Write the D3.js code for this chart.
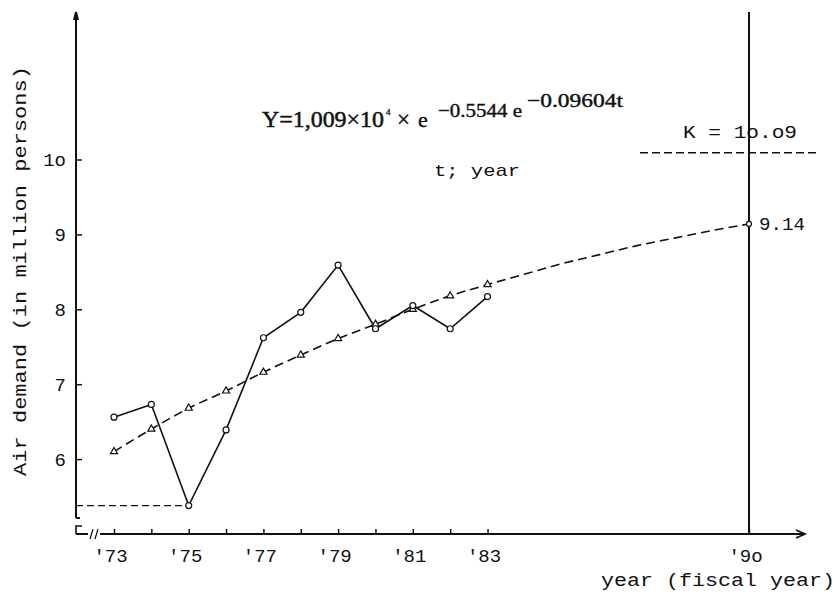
<!DOCTYPE html>
<html>
<head>
<meta charset="utf-8">
<script src="https://cdn.jsdelivr.net/npm/d3@7"></script>
<style>
  body { margin: 0; background: #fff; }
  svg { display: block; }
</style>
</head>
<body>
<div id="chart"></div>
<script>
// fiscal years with observed values ('73 - '83)
const years = [73, 74, 75, 76, 77, 78, 79, 80, 81, 82, 83]
// actual air demand, million persons (solid line, circles)
const actual = [6.56, 6.73, 5.38, 6.39, 7.62, 7.96, 8.59, 7.74, 8.05, 7.74, 8.17]
// fitted Gompertz curve (dashed line, triangles)
const fitted = [6.10, 6.40, 6.68, 6.91, 7.16, 7.39, 7.61, 7.80, 8.00, 8.18, 8.33]
// projection of the fitted curve to '90 (dashed, no markers)
const projYears = [83, 84, 85, 86, 87, 88, 89, 90]
const projected = [8.33, 8.47, 8.61, 8.73, 8.85, 8.95, 9.05, 9.14]
const saturation = 10.09 // K

const xTicks = [73, 74, 75, 76, 77, 78, 79, 80, 81, 82, 83, 90]
const xLabelYears = [73, 75, 77, 79, 81, 83, 90]
const xTickLabels = ["'73", "'75", "'77", "'79", "'81", "'83", "'9o"]
const yTicks = [6, 7, 8, 9, 10]
const yTickLabels = ['6', '7', '8', '9', '1o']

const width = 838
const height = 599
const mono = "'Liberation Mono', 'Courier New', monospace"
const serif = "'Liberation Serif', 'Times New Roman', serif"

const x = d3.scaleLinear().domain([73, 90]).range([114, 749])
const y = d3.scaleLinear().domain([5, 10]).range([534, 159.5])

const svg = d3.select('#chart')
  .append('svg')
  .attr('width', width)
  .attr('height', height)

svg.append('rect').attr('width', width).attr('height', height).attr('fill', '#fff')

const ink = '#111'
const x0 = x.range()[0] - 38 // y axis position
const yBase = y(5)

// y axis line with arrow and break
svg.append('path')
  .attr('d', `M${x0},${yBase - 16} L${x0},12 M${x0 - 2},20 L${x0},12 L${x0 + 2},20 M${x0},${yBase - 16} L${x0 + 4},${yBase - 16}`)
  .attr('fill', 'none').attr('stroke', ink).attr('stroke-width', 2)
svg.append('path')
  .attr('d', `M${x0 + 6},${yBase - 8} L${x0},${yBase - 8} L${x0},${yBase}`)
  .attr('fill', 'none').attr('stroke', ink).attr('stroke-width', 1.6)

// x axis line with break and arrow
svg.append('path')
  .attr('d', `M${x0},${yBase} L${x0 + 12},${yBase} M${x0 + 24},${yBase} L805,${yBase} M796,${yBase - 4} L805,${yBase} L796,${yBase + 4}`)
  .attr('fill', 'none').attr('stroke', ink).attr('stroke-width', 1.8)
svg.append('path')
  .attr('d', `M${x0 + 14},${yBase + 5} L${x0 + 17},${yBase - 5} M${x0 + 19},${yBase + 5} L${x0 + 22},${yBase - 5}`)
  .attr('fill', 'none').attr('stroke', ink).attr('stroke-width', 1.2)

// x axis ticks and labels
const gx = svg.append('g')
  .attr('transform', `translate(0,${yBase})`)
  .call(d3.axisBottom(x)
    .tickValues(xTicks)
    .tickSize(-5)
    .tickFormat(d => {
      const i = xLabelYears.indexOf(d)
      return i < 0 ? '' : xTickLabels[i]
    }))
gx.select('.domain').remove()
gx.selectAll('.tick line').attr('stroke', ink).attr('stroke-width', 1.5)
gx.selectAll('.tick text')
  .attr('dy', null)
  .attr('y', 28)
  .attr('dx', -4)
  .attr('fill', ink)
  .style('font-family', mono)
  .style('font-size', '19px')

// y axis ticks and labels
const gy = svg.append('g')
  .attr('transform', `translate(${x0},0)`)
  .call(d3.axisLeft(y)
    .tickValues(yTicks)
    .tickSize(-6)
    .tickPadding(10)
    .tickFormat((d, i) => yTickLabels[i]))
gy.select('.domain').remove()
gy.selectAll('.tick line').attr('stroke', ink).attr('stroke-width', 1.5)
gy.selectAll('.tick text')
  .attr('fill', ink)
  .style('font-family', mono)
  .style('font-size', '19px')

// vertical line at '90
svg.append('line')
  .attr('x1', x(90)).attr('x2', x(90))
  .attr('y1', 12).attr('y2', yBase)
  .attr('stroke', ink).attr('stroke-width', 2)

// saturation level K
svg.append('line')
  .attr('x1', 640).attr('x2', 818)
  .attr('y1', y(saturation)).attr('y2', y(saturation))
  .attr('stroke', ink).attr('stroke-width', 1.3)
  .attr('stroke-dasharray', '8,4')

// dashed guide to the '75 minimum
svg.append('line')
  .attr('x1', x0).attr('x2', x(75))
  .attr('y1', y(actual[2])).attr('y2', y(actual[2]))
  .attr('stroke', ink).attr('stroke-width', 1.2)
  .attr('stroke-dasharray', '7,4')

// fitted + projected curve
const fitPts = years.map((d, i) => [d, fitted[i]])
  .concat(projYears.slice(1).map((d, i) => [d, projected[i + 1]]))
svg.append('path')
  .attr('d', d3.line().x(d => x(d[0])).y(d => y(d[1])).curve(d3.curveMonotoneX)(fitPts))
  .attr('fill', 'none').attr('stroke', ink).attr('stroke-width', 1.6)
  .attr('stroke-dasharray', '9,5')

// actual line
svg.append('path')
  .attr('d', d3.line().x((d, i) => x(years[i])).y(d => y(d))(actual))
  .attr('fill', 'none').attr('stroke', ink).attr('stroke-width', 1.6)

// triangles on fitted values
svg.selectAll('.tri')
  .data(fitted)
  .join('path')
  .attr('class', 'tri')
  .attr('transform', (d, i) => `translate(${x(years[i])},${y(d)})`)
  .attr('d', d3.symbol(d3.symbolTriangle, 22))
  .attr('fill', '#fff').attr('stroke', ink).attr('stroke-width', 1.2)

// circles on actual values
svg.selectAll('.dot')
  .data(actual)
  .join('circle')
  .attr('class', 'dot')
  .attr('cx', (d, i) => x(years[i]))
  .attr('cy', d => y(d))
  .attr('r', 3)
  .attr('fill', '#fff').attr('stroke', ink).attr('stroke-width', 1.2)

// projected end point
svg.append('circle')
  .attr('cx', x(90)).attr('cy', y(projected[projected.length - 1]))
  .attr('r', 2.5)
  .attr('fill', '#fff').attr('stroke', ink).attr('stroke-width', 1.2)

// texts
const txt = (s, px, py, opts) => {
  const t = svg.append('text')
    .attr('x', px).attr('y', py)
    .attr('fill', ink)
    .style('font-family', opts.font || mono)
    .style('font-size', opts.size + 'px')
    .text(s)
  if (opts.len) t.attr('textLength', opts.len).attr('lengthAdjust', 'spacingAndGlyphs')
  if (opts.anchor) t.attr('text-anchor', opts.anchor)
  if (opts.bold) t.attr('stroke', ink).attr('stroke-width', opts.bold)
  return t
}

txt('9.14', 759, 230, { size: 18, len: 46 })
txt('K = 1o.o9', 683, 138, { size: 18, len: 114 })
txt('t; year', 434, 176, { size: 17, len: 86 })

// equation
txt('Y=1,009×10', 262, 127, { font: serif, size: 23, len: 122, bold: 0.5 })
txt('4', 386, 115, { font: serif, size: 9, bold: 0.3 })
txt('×', 397, 127, { font: serif, size: 23, bold: 0.5 })
txt('e', 418, 127, { font: serif, size: 22, bold: 0.4 })
txt('−0.5544 e', 438, 117, { font: serif, size: 19, len: 84, bold: 0.4 })
txt('−0.09604t', 527, 107, { font: serif, size: 19, len: 96, bold: 0.4 })

// axis titles
txt('year (fiscal year)', 601, 586, { size: 18, len: 234 })
svg.append('text')
  .attr('transform', 'translate(26,271) rotate(-90)')
  .attr('text-anchor', 'middle')
  .attr('textLength', 410)
  .attr('lengthAdjust', 'spacingAndGlyphs')
  .attr('fill', ink)
  .style('font-family', mono)
  .style('font-size', '18px')
  .text('Air demand (in million persons)')
</script>
</body>
</html>
